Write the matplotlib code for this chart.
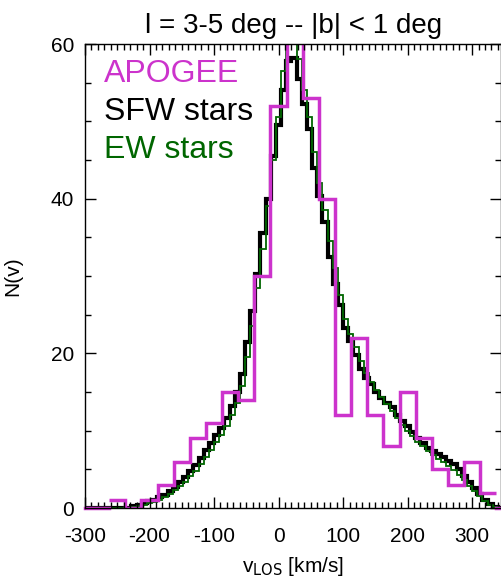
import numpy as np
import matplotlib
matplotlib.use("Agg")
import matplotlib.pyplot as plt
from matplotlib.ticker import MultipleLocator

plt.rcParams['font.family'] = ['Liberation Sans', 'DejaVu Sans']
plt.rcParams['axes.unicode_minus'] = False

# APOGEE histogram, 25 km/s bins
apogee_edges = np.arange(-262.5, 350, 25)
apogee_counts = [1, 0, 1, 3, 6, 9, 11, 15, 14, 30, 52, 64, 53, 40,
                 12, 22, 12, 8, 15, 9, 5, 3, 6, 2]

# SFW / EW stars, 8 km/s bins (scaled)
fine_edges = np.arange(-300, 352, 8)
sfw_counts = [0, 0, 0, 0, 0, 0, 0, 0, 0, 0.2, 0.4, 0.6, 0.9, 1.1, 1.4, 1.7,
              2.2, 2.7, 3.4, 4.0, 4.8, 5.6, 6.5, 7.5, 8.4, 9.4, 10.4, 11.6,
              13.2, 15.0, 17.3, 21.5, 25.5, 30.3, 35.5, 40.0, 45.5, 49.5,
              54.0, 57.8, 58.2, 55.5, 52.3, 49.0, 44.0, 40.3, 37.0, 32.5,
              29.0, 26.2, 23.3, 21.6, 19.8, 18.0, 16.8, 16.0, 15.0, 14.2,
              13.6, 13.0, 12.0, 11.2, 10.6, 9.8, 9.0, 8.4, 7.8, 7.4, 7.0,
              6.6, 6.1, 5.7, 5.0, 4.2, 3.4, 2.6, 1.8, 1.1, 0.5, 0.1, 0]
ew_counts = [0, 0, 0, 0, 0, 0, 0, 0, 0, 0.1, 0.2, 0.4, 0.6, 0.8, 1.1, 1.4,
             1.8, 2.3, 2.8, 3.4, 4.1, 4.8, 5.7, 6.6, 7.5, 8.5, 9.5, 10.6,
             12.0, 13.6, 15.8, 19.5, 23.5, 28.5, 33.5, 39.0, 45.0, 50.5,
             56.5, 60.5, 61.0, 58.0, 54.0, 50.5, 46.0, 42.0, 38.5, 34.5,
             31.0, 27.5, 24.5, 22.5, 20.8, 19.0, 17.5, 16.3, 15.2, 14.3,
             13.5, 12.6, 11.6, 10.8, 10.0, 9.3, 8.6, 8.0, 7.4, 6.9, 6.4,
             5.9, 5.4, 4.9, 4.3, 3.6, 2.9, 2.2, 1.5, 0.9, 0.4, 0.1, 0]

magenta = '#cc33cc'
green = '#006600'

fig = plt.figure(figsize=(5.02, 5.80), dpi=100)
ax = fig.add_axes([0.1693, 0.1241, 0.829, 0.80])

ax.stairs(sfw_counts, fine_edges, color='black', lw=3.0, baseline=None)
ax.stairs(ew_counts, fine_edges, color=green, lw=1.3, baseline=None)
ax.plot([-300, apogee_edges[0]], [0, 0], color=magenta, lw=2.5, clip_on=False)
ax.stairs(apogee_counts, apogee_edges, color=magenta, lw=2.5, baseline=None)
ax.plot([apogee_edges[-1], 345], [0, 0], color=magenta, lw=2.5, clip_on=False)

ax.set_xlim(-300, 345)
ax.set_ylim(0, 60)
ax.xaxis.set_major_locator(MultipleLocator(100))
ax.xaxis.set_minor_locator(MultipleLocator(10))
ax.yaxis.set_major_locator(MultipleLocator(20))
ax.yaxis.set_minor_locator(MultipleLocator(5))
ax.tick_params(which='both', direction='in', top=True, right=True,
               labelsize=15, width=1)
ax.tick_params(which='major', length=8)
ax.tick_params(axis='x', which='major', pad=14)
ax.tick_params(axis='y', which='major', pad=8)
ax.tick_params(which='minor', length=4)
for s in ax.spines.values():
    s.set_linewidth(1)

ax.set_xlabel(r'v$_{\rm LOS}$ [km/s]', fontsize=15, labelpad=6)
ax.set_ylabel('N(v)', fontsize=15, labelpad=20)
ax.set_title('l = 3-5 deg -- |b| < 1 deg', fontsize=20, pad=8)

ax.text(0.045, 0.919, 'APOGEE', color=magenta, fontsize=23, transform=ax.transAxes)
ax.text(0.045, 0.836, 'SFW stars', color='black', fontsize=23, transform=ax.transAxes)
ax.text(0.045, 0.754, 'EW stars', color=green, fontsize=23, transform=ax.transAxes)

fig.savefig('out.png', dpi=100)
